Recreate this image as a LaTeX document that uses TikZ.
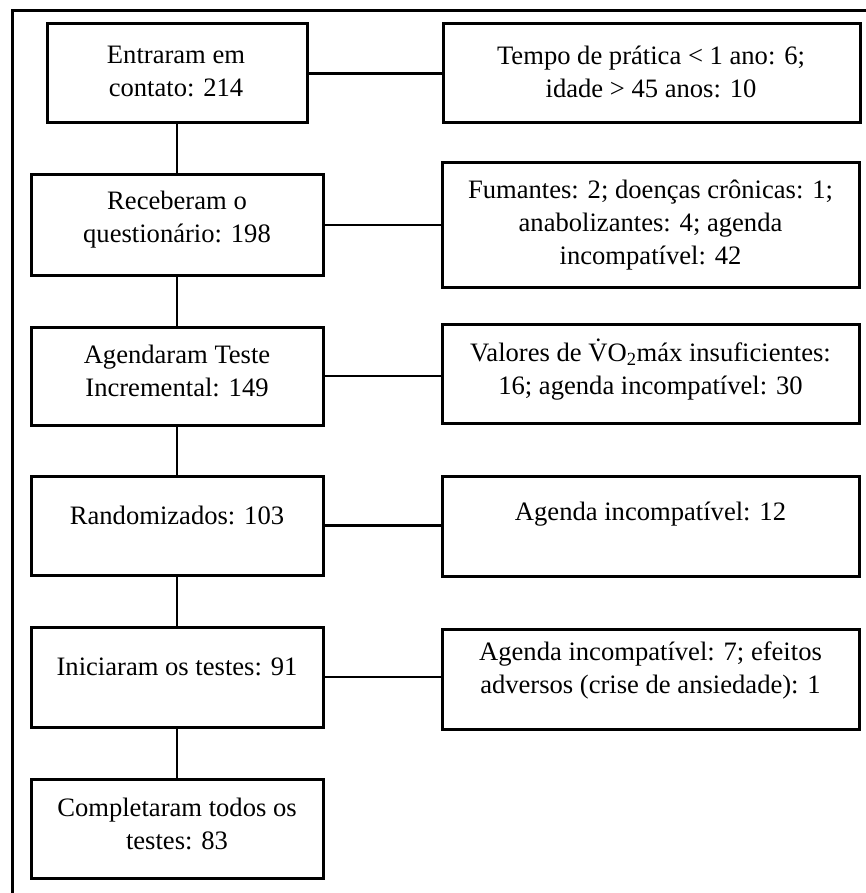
\documentclass[tikz,border=0pt]{standalone}
\usepackage{fontspec}
\setmainfont{Liberation Serif}
\begin{document}
\begin{tikzpicture}[x=1pt,y=-1pt,
  stagebox/.style={draw=black,line width=3pt},
  txt/.style={font=\fontsize{26.6}{33}\selectfont,align=center,inner sep=0pt},
  link/.style={draw=black,line width=2.6pt}]
\clip (0,0) rectangle (866,893);
\useasboundingbox (0,0) rectangle (866,893);
\fill[white] (0,0) rectangle (866,893);
% outer frame (only its left and top sides fall inside the page)
\draw[line width=3pt] (12,11) rectangle (900,930);

% left column: flow stages
\node[stagebox,minimum width=260,minimum height=99] (l1) at (177,73.5) {};
\node[stagebox,minimum width=292,minimum height=100] (l2) at (177,225) {};
\node[stagebox,minimum width=292,minimum height=98] (l3) at (177,376) {};
\node[stagebox,minimum width=292,minimum height=99] (l4) at (177,525.5) {};
\node[stagebox,minimum width=292,minimum height=100] (l5) at (177,677) {};
\node[stagebox,minimum width=292,minimum height=99] (l6) at (177,828.5) {};

\node[txt] (t1) at (176,71) {Entraram em\\contato: 214};
\node[txt] (t2) at (177,220) {Receberam o\\questionário: 198};
\node[txt] (t3) at (177,371) {Agendaram Teste\\Incremental: 149};
\node[txt] (t4) at (177,515) {Randomizados: 103};
\node[txt] (t5) at (177,667) {Iniciaram os testes: 91};
\node[txt] (t6) at (177,824) {Completaram todos os\\testes: 83};

% right column: exclusions
\node[stagebox,minimum width=417,minimum height=99] (r1) at (651.5,73.5) {};
\node[stagebox,minimum width=417,minimum height=124] (r2) at (650.5,225) {};
\node[stagebox,minimum width=417,minimum height=99] (r3) at (650.5,373.5) {};
\node[stagebox,minimum width=417,minimum height=100] (r4) at (650.5,526) {};
\node[stagebox,minimum width=417,minimum height=100] (r5) at (650.5,679) {};

\node[txt] (s1) at (651,72) {Tempo de prática < 1 ano: 6;\\idade > 45 anos: 10};
\node[txt] (s2) at (650.5,225) {Fumantes: 2; doenças crônicas: 1;\\anabolizantes: 4; agenda\\incompatível: 42};
\node[txt] (s3) at (650.5,370) {Valores de \.{V}O\textsubscript{2}máx insuficientes:\\16; agenda incompatível: 30};
\node[txt] (s4) at (650.5,514) {Agenda incompatível: 12};
\node[txt] (s5) at (650.5,670) {Agenda incompatível: 7; efeitos\\adversos (crise de ansiedade): 1};

% vertical links between stages
\draw[link] (l1.south) -- (l2.north);
\draw[link] (l2.south) -- (l3.north);
\draw[link] (l3.south) -- (l4.north);
\draw[link] (l4.south) -- (l5.north);
\draw[link] (l5.south) -- (l6.north);

% horizontal links to exclusions
\draw[link] (l1.east) -- (r1.west |- l1.east);
\draw[link] (l2.east) -- (r2.west |- l2.east);
\draw[link] (l3.east) -- (r3.west |- l3.east);
\draw[link] (l4.east) -- (r4.west |- l4.east);
\draw[link] (l5.east) -- (r5.west |- l5.east);
\end{tikzpicture}
\end{document}
